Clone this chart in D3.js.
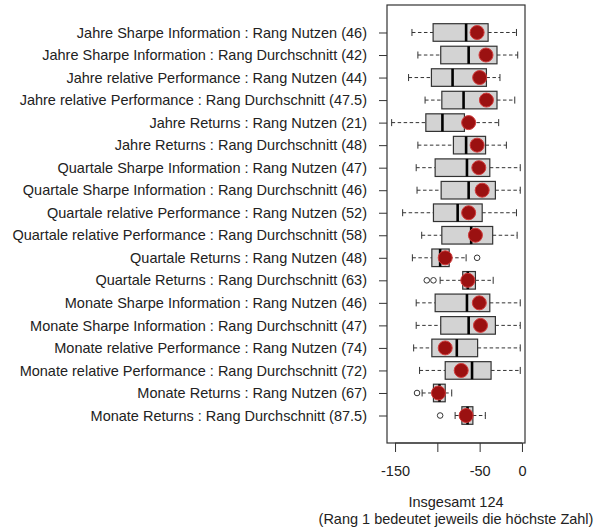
<!DOCTYPE html>
<html>
<head>
<meta charset="utf-8">
<script src="https://cdn.jsdelivr.net/npm/d3@7"></script>
<style>
  body { margin: 0; background: white; }
  text { font-family: "Liberation Sans", Arial, sans-serif; }
</style>
</head>
<body>
<script>
const width = 595;
const height = 532;
const fontSize = 14.5;

// categories, top to bottom
const labels = [
  "Jahre Sharpe Information : Rang Nutzen (46)",
  "Jahre Sharpe Information : Rang Durchschnitt (42)",
  "Jahre relative Performance : Rang Nutzen (44)",
  "Jahre relative Performance : Rang Durchschnitt (47.5)",
  "Jahre Returns : Rang Nutzen (21)",
  "Jahre Returns : Rang Durchschnitt (48)",
  "Quartale Sharpe Information : Rang Nutzen (47)",
  "Quartale Sharpe Information : Rang Durchschnitt (46)",
  "Quartale relative Performance : Rang Nutzen (52)",
  "Quartale relative Performance : Rang Durchschnitt (58)",
  "Quartale Returns : Rang Nutzen (48)",
  "Quartale Returns : Rang Durchschnitt (63)",
  "Monate Sharpe Information : Rang Nutzen (46)",
  "Monate Sharpe Information : Rang Durchschnitt (47)",
  "Monate relative Performance : Rang Nutzen (74)",
  "Monate relative Performance : Rang Durchschnitt (72)",
  "Monate Returns : Rang Nutzen (67)",
  "Monate Returns : Rang Durchschnitt (87.5)"
];

// box statistics
const whiskerLow  = [-130, -123, -134, -114.5, -154, -123, -125, -124, -141, -118.5, -129.5, -96.7, -125, -125, -128, -121, -118, -79];
const q1          = [-105, -96, -107, -94.7, -113.6, -81, -102.6, -95.5, -104.6, -94.7, -106.5, -70, -102.6, -96, -106.5, -90.7, -104.6, -71];
const medians     = [-66, -63, -82, -69, -94, -66, -65, -63, -76, -60, -96.7, -64, -65, -63, -77, -59, -97.5, -64.3];
const q3          = [-40, -29.5, -42, -29.5, -68, -43, -38, -31.4, -47, -34.6, -86, -55, -38, -31.4, -52.4, -36.5, -90.7, -58];
const whiskerHigh = [-6.5, -5, -26, -8.5, -27.5, -18.4, -2, -2, -6.5, -5.7, -66, -34, -2, -2, -2, -2, -83, -43.3];
const means       = [-53, -42.5, -50, -42, -63, -53, -51, -47, -63, -55, -90.7, -64, -50.4, -49, -90.7, -71.8, -98.7, -66];
// outliers: [row index, value]
const outliers = [[10, -53], [11, -112.5], [11, -104.6], [16, -124], [17, -96.7]];

const xTicks = [-150, -100, -50, 0];
const xTickLabels = ["-150", "", "-50", "0"];
const title1 = "Insgesamt 124";
const title2 = "(Rang 1 bedeutet jeweils die höchste Zahl)";

const plot = { left: 387, right: 525, top: 5, bottom: 443 };

const svg = d3.select("body")
  .append("svg")
  .attr("width", width)
  .attr("height", height);

svg.append("rect")
  .attr("width", width)
  .attr("height", height)
  .attr("fill", "white");

const x = d3.scaleLinear()
  .domain([-159.5, 3.6])
  .range([plot.left, plot.right]);

// R style: boxes at 1..n, range 0.5..n+0.5 with 4% padding
const n = labels.length;
const y = d3.scaleLinear()
  .domain([0.5 - 0.04 * n, n + 0.5 + 0.04 * n])
  .range([plot.top, plot.bottom]);

const boxH = (y(1) - y(0)) * 0.78;
const stapleH = boxH * 0.4;

const rows = labels.map((l, i) => ({
  label: l,
  pos: i + 1,
  lo: whiskerLow[i],
  q1: q1[i],
  med: medians[i],
  q3: q3[i],
  hi: whiskerHigh[i],
  mean: means[i]
}));

const g = svg.append("g");

const row = g.selectAll(".row")
  .data(rows)
  .enter()
  .append("g")
  .attr("class", "row");

// whiskers
row.append("line")
  .attr("x1", d => x(d.lo))
  .attr("x2", d => x(d.q1))
  .attr("y1", d => y(d.pos))
  .attr("y2", d => y(d.pos))
  .attr("stroke", "#333")
  .attr("stroke-dasharray", "3.5,2.5");
row.append("line")
  .attr("x1", d => x(d.q3))
  .attr("x2", d => x(d.hi))
  .attr("y1", d => y(d.pos))
  .attr("y2", d => y(d.pos))
  .attr("stroke", "#333")
  .attr("stroke-dasharray", "3.5,2.5");

// staples
row.append("line")
  .attr("x1", d => x(d.lo))
  .attr("x2", d => x(d.lo))
  .attr("y1", d => y(d.pos) - stapleH / 2)
  .attr("y2", d => y(d.pos) + stapleH / 2)
  .attr("stroke", "#333");
row.append("line")
  .attr("x1", d => x(d.hi))
  .attr("x2", d => x(d.hi))
  .attr("y1", d => y(d.pos) - stapleH / 2)
  .attr("y2", d => y(d.pos) + stapleH / 2)
  .attr("stroke", "#333");

// boxes
row.append("rect")
  .attr("x", d => x(d.q1))
  .attr("width", d => x(d.q3) - x(d.q1))
  .attr("y", d => y(d.pos) - boxH / 2)
  .attr("height", boxH)
  .attr("fill", "#d3d3d3")
  .attr("stroke", "#333")
  .attr("stroke-width", 1.2);

// medians
row.append("line")
  .attr("x1", d => x(d.med))
  .attr("x2", d => x(d.med))
  .attr("y1", d => y(d.pos) - boxH / 2)
  .attr("y2", d => y(d.pos) + boxH / 2)
  .attr("stroke", "black")
  .attr("stroke-width", 2.6);

// outliers
g.selectAll(".outlier")
  .data(outliers)
  .enter()
  .append("circle")
  .attr("class", "outlier")
  .attr("cx", d => x(d[1]))
  .attr("cy", d => y(d[0] + 1))
  .attr("r", 2.8)
  .attr("fill", "none")
  .attr("stroke", "#333");

// means
row.append("circle")
  .attr("cx", d => x(d.mean))
  .attr("cy", d => y(d.pos))
  .attr("r", 7)
  .attr("fill", "#9b1111")
  .attr("stroke", "#d23a3a")
  .attr("stroke-width", 1);

// plot frame
svg.append("rect")
  .attr("x", plot.left)
  .attr("y", plot.top)
  .attr("width", plot.right - plot.left)
  .attr("height", plot.bottom - plot.top)
  .attr("fill", "none")
  .attr("stroke", "#333")
  .attr("stroke-width", 1.2);

// y axis (category labels)
const yAxis = d3.axisLeft(y)
  .tickValues(rows.map(d => d.pos))
  .tickFormat((d, i) => labels[i])
  .tickSize(8)
  .tickPadding(12);
const ya = svg.append("g")
  .attr("transform", `translate(${plot.left},0)`)
  .call(yAxis);
ya.select(".domain").remove();
ya.selectAll("line").attr("stroke", "#333");
ya.selectAll("text")
  .attr("font-size", fontSize)
  .attr("fill", "#222")
  .style("font-family", "'Liberation Sans', Arial, sans-serif");

// x axis
const xAxis = d3.axisBottom(x)
  .tickValues(xTicks)
  .tickFormat((d, i) => xTickLabels[i])
  .tickSize(9)
  .tickPadding(13.5);
const xa = svg.append("g")
  .attr("transform", `translate(0,${plot.bottom})`)
  .call(xAxis);
xa.select(".domain")
  .attr("d", `M${x(-150)},0H${x(0)}`)
  .attr("stroke", "#333");
xa.selectAll("line").attr("stroke", "#333");
xa.selectAll("text")
  .attr("font-size", fontSize)
  .attr("fill", "#222")
  .style("font-family", "'Liberation Sans', Arial, sans-serif");

// x axis title
const cx = (plot.left + plot.right) / 2;
svg.append("text")
  .attr("x", cx)
  .attr("y", 507)
  .attr("text-anchor", "middle")
  .attr("font-size", fontSize)
  .attr("fill", "#222")
  .text(title1);
svg.append("text")
  .attr("x", cx)
  .attr("y", 523.5)
  .attr("text-anchor", "middle")
  .attr("font-size", fontSize)
  .attr("fill", "#222")
  .text(title2);
</script>
</body>
</html>
